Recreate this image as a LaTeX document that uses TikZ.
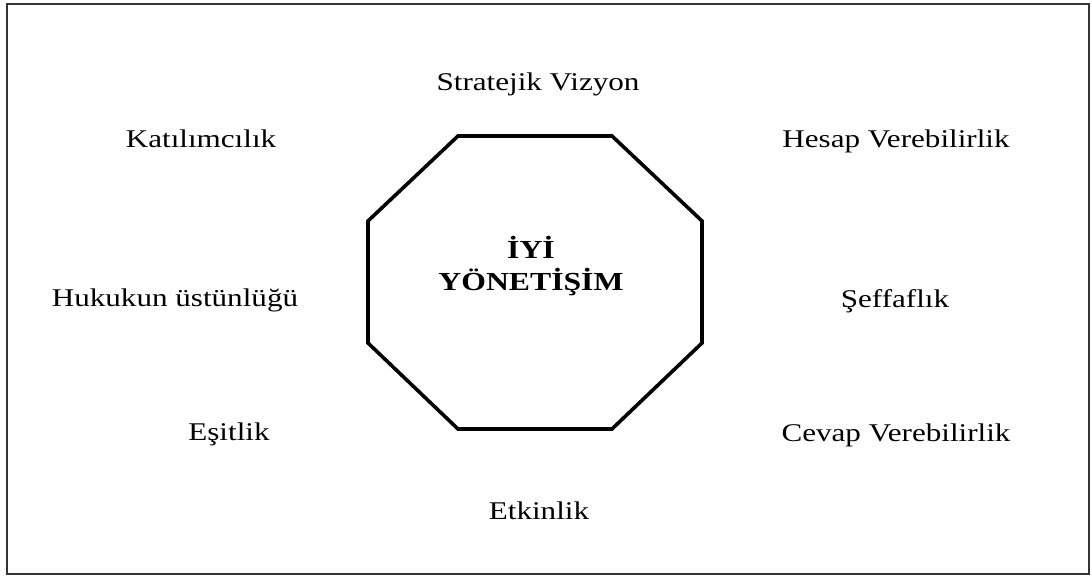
\documentclass[tikz,border=0pt]{standalone}
\usepackage{fontspec}
\setmainfont{Liberation Serif}[FakeStretch=1.22]
\begin{document}
\begin{tikzpicture}[x=1pt,y=-1pt,
  lbl/.style={anchor=base,inner sep=0pt,font=\fontsize{25.5}{30}\selectfont},
  title/.style={align=center,inner sep=0pt,font=\fontsize{26}{32}\selectfont\bfseries},
  frame/.style={draw=black!80,line width=2pt},
  octa/.style={draw=black,line width=3.6pt,line join=miter}]
\useasboundingbox (0,0) rectangle (1092,577);
\draw[frame] (7,4) rectangle (1089,574);
\draw[octa] (458,136) -- (612,136) -- (702,221) -- (702,343) -- (612,429) -- (458,429) -- (368,343) -- (368,221) -- cycle;
\node[title] (center) at (531,266) {İYİ\\YÖNETİŞİM};
\node[lbl] (sv) at (538,91) {Stratejik Vizyon};
\node[lbl] (kat) at (201,148) {Katılımcılık};
\node[lbl] (hv) at (896,148) {Hesap Verebilirlik};
\node[lbl] (hu) at (175,306) {Hukukun üstünlüğü};
\node[lbl] (se) at (895,307) {Şeffaflık};
\node[lbl] (es) at (229,440) {Eşitlik};
\node[lbl] (cv) at (896,441) {Cevap Verebilirlik};
\node[lbl] (et) at (539,519) {Etkinlik};
\end{tikzpicture}
\end{document}
